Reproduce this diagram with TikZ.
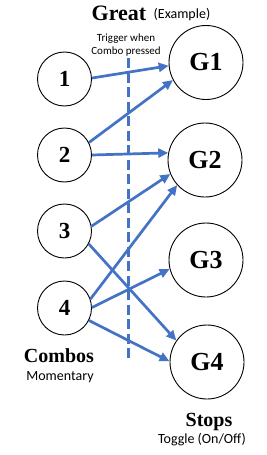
\documentclass[tikz,border=0pt]{standalone}
\usepackage{fontspec}
\setmainfont{Liberation Serif}
\newfontfamily\calibri{Carlito}
\usetikzlibrary{arrows.meta,positioning}
\definecolor{officeblue}{RGB}{68,114,196}
\tikzset{
  combo/.style={
    circle,
    draw=black,
    line width=0.9pt,
    minimum size=54pt,
    inner sep=0pt,
    font=\bfseries\fontsize{23}{23}\selectfont
  },
  stopnode/.style={
    circle,
    draw=black,
    line width=0.9pt,
    minimum size=74pt,
    inner sep=0pt,
    font=\bfseries\fontsize{26}{26}\selectfont
  },
  titulo/.style={
    anchor=base,
    inner sep=0pt,
    font=\bfseries\fontsize{20}{20}\selectfont
  },
  nota/.style={
    anchor=base,
    inner sep=0pt,
    font=\calibri\fontsize{14}{14}\selectfont
  },
  link/.style={
    -{Triangle[length=10pt,width=9pt]},
    line width=2.7pt,
    officeblue
  }
}
\begin{document}
\begin{tikzpicture}[x=1pt,y=-1pt]
\useasboundingbox (0,0) rectangle (267,455);
% combos (momentary)
\node[combo] (c1) at (64.5,79) {1};
\node[combo] (c2) at (64.5,155) {2};
\node[combo] (c3) at (64.5,231) {3};
\node[combo] (c4) at (64.5,308) {4};
% stops (toggle)
\node[stopnode] (g1) at (206,62.5) {G1};
\node[stopnode] (g2) at (205,160) {G2};
\node[stopnode] (g3) at (206,260) {G3};
\node[stopnode] (g4) at (207,362) {G4};
% titles
\node[titulo, font=\bfseries\fontsize{22}{22}\selectfont] (great) at (119,20.5) {Great};
\node[nota] (example) at (182,19) {(Example)};
\node[titulo] (combos) at (59,362.5) {Combos};
\node[nota] (momentary) at (60,380.5) {Momentary};
\node[titulo] (stops) at (209,426.5) {Stops};
\node[nota] (toggle) at (202,443) {Toggle (On/Off)};
\node[nota, font=\calibri\fontsize{11}{11}\selectfont] (trigger1) at (126,41.5) {Trigger when};
\node[nota, font=\calibri\fontsize{11}{11}\selectfont] (trigger2) at (126,54.5) {Combo pressed};
% trigger line
\coordinate (trigtop) at (128.5,58);
\coordinate (trigbot) at (128.5,360);
\draw[officeblue, line width=2.2pt, dash pattern=on 10pt off 4.5pt] (trigtop) -- (trigbot);
% links
\draw[link] (c1.2) -- (g1.185);
\draw[link] (c2.27) -- (g1.208);
\draw[link] (c2.0) -- (g2.169);
\draw[link] (c3.10) -- (g2.202);
\draw[link] (c3.-28) -- (g4.145);
\draw[link] (c4.19) -- (g2.222);
\draw[link] (c4.1) -- (g3.194);
\draw[link] (c4.-27) -- (g4.179);
\end{tikzpicture}
\end{document}
